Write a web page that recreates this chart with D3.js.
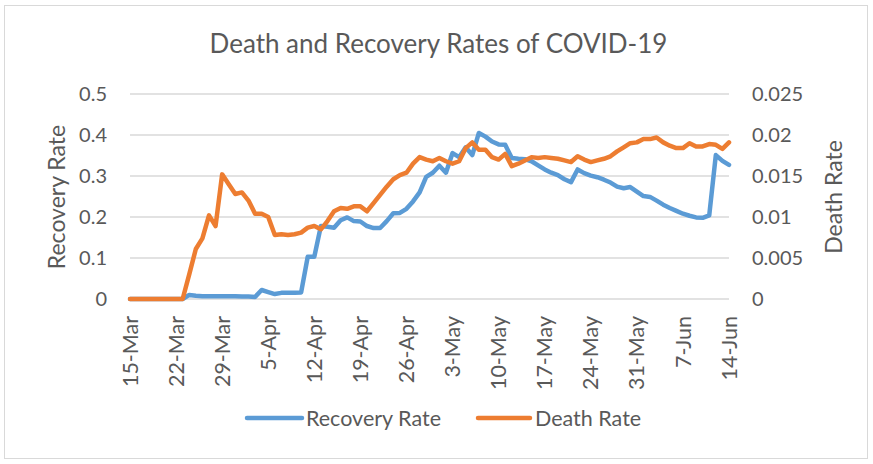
<!DOCTYPE html>
<html><head><meta charset="utf-8">
<script src="https://cdn.jsdelivr.net/npm/d3@7"></script>
<style>
html,body{margin:0;padding:0;background:#fff;}
svg text{font-family:Lato,"Open Sans",sans-serif;fill:#595959;}
</style></head>
<body><svg id="c" width="873" height="464"></svg>
<script>
const title = "Death and Recovery Rates of COVID-19";
const startDate = "2020-03-15";
const endDate = "2020-06-14";
const xTickLabels = ["15-Mar","22-Mar","29-Mar","5-Apr","12-Apr","19-Apr","26-Apr","3-May","10-May","17-May","24-May","31-May","7-Jun","14-Jun"];
const leftTicks = [0,0.1,0.2,0.3,0.4,0.5];
const rightTicks = [0,0.005,0.01,0.015,0.02,0.025];
const recoveryRate = [0,0,0,0,0,0,0,0,0,0.010,0.008,0.007,0.007,0.007,0.007,0.007,0.007,0.006,0.006,0.005,
 0.022,0.017,0.012,0.015,0.015,0.015,0.016,0.103,0.103,0.178,0.176,0.174,0.192,0.199,0.190,0.189,0.178,0.173,0.173,0.190,
 0.209,0.210,0.220,0.238,0.260,0.298,0.308,0.325,0.308,0.356,0.346,0.370,0.351,0.405,0.396,0.384,0.377,0.376,0.344,0.342,
 0.341,0.336,0.326,0.316,0.308,0.302,0.292,0.285,0.316,0.307,0.301,0.297,0.291,0.284,0.274,0.270,0.273,0.262,0.251,0.249,
 0.240,0.230,0.222,0.215,0.208,0.203,0.199,0.198,0.204,0.351,0.337,0.327];
const deathRate = [0,0,0,0,0,0,0,0,0,0.0030,0.0061,0.0074,0.0102,0.0089,0.0152,0.0140,0.0128,0.0130,0.0120,0.0104,
 0.0104,0.0100,0.0078,0.0079,0.0078,0.0079,0.0081,0.0087,0.0089,0.0085,0.0095,0.0107,0.0111,0.0110,0.0113,0.0113,0.0107,0.0117,0.0127,0.0137,
 0.0146,0.0151,0.0154,0.0165,0.0173,0.0170,0.0168,0.0172,0.0168,0.0165,0.0168,0.0184,0.0191,0.0182,0.0182,0.0173,0.0170,0.0177,0.0162,0.0165,
 0.0169,0.0173,0.0172,0.0173,0.0172,0.0171,0.0169,0.0167,0.0174,0.0170,0.0167,0.0169,0.0171,0.0174,0.0180,0.0185,0.0190,0.0191,0.0195,0.0195,
 0.0197,0.0191,0.0187,0.0184,0.0184,0.0190,0.0186,0.0186,0.0189,0.0188,0.0183,0.0191];
const seriesNames = ["Recovery Rate","Death Rate"];
const colors = ["#5B9BD5","#ED7D31"];

const parse = d3.timeParse("%Y-%m-%d");
const dates = d3.timeDay.range(parse(startDate), d3.timeDay.offset(parse(endDate),1));
const svg = d3.select("#c");
svg.append("rect").attr("x",4.5).attr("y",5.5).attr("width",863).attr("height",453)
  .attr("fill","#fff").attr("stroke","#d9d9d9").attr("stroke-width",1);

const L=130,R=729,T=94,B=299;
const x = d3.scaleTime().domain([parse(startDate),parse(endDate)]).range([L,R]);
const yL = d3.scaleLinear().domain([0,0.5]).range([B,T]);
const yR = d3.scaleLinear().domain([0,0.025]).range([B,T]);

// gridlines
svg.append("g").selectAll("line").data(leftTicks).join("line")
  .attr("x1",L).attr("x2",R).attr("y1",d=>yL(d)).attr("y2",d=>yL(d))
  .attr("stroke","#d9d9d9").attr("stroke-width",1.5);

// left axis
const gl = svg.append("g").attr("transform",`translate(${L},0)`)
  .call(d3.axisLeft(yL).tickValues(leftTicks).tickFormat(d=>String(+d.toFixed(3))).tickSize(0).tickPadding(23));
gl.select(".domain").remove();
gl.selectAll("text").attr("font-size",20).attr("fill","#595959").style("font-family","Lato");

// right axis
const gr = svg.append("g").attr("transform",`translate(${R},0)`)
  .call(d3.axisRight(yR).tickValues(rightTicks).tickFormat(d=>String(+d.toFixed(3))).tickSize(0).tickPadding(23));
gr.select(".domain").remove();
gr.selectAll("text").attr("font-size",20).attr("fill","#595959").style("font-family","Lato");

// x axis
const tickDates = xTickLabels.map((s,i)=>d3.timeDay.offset(parse(startDate),i*7));
const gx = svg.append("g").attr("transform",`translate(0,${B})`)
  .call(d3.axisBottom(x).tickValues(tickDates).tickFormat((d,i)=>xTickLabels[i]).tickSize(0));
gx.select(".domain").remove();
gx.selectAll("text").attr("font-size",21.5).attr("fill","#595959").style("font-family","Lato")
  .attr("transform","rotate(-90)").attr("text-anchor","end").attr("x",-17).attr("y",0).attr("dy","0.33em");

// lines
const lineR = d3.line().x((d,i)=>x(dates[i])).y(d=>yL(d));
const lineD = d3.line().x((d,i)=>x(dates[i])).y(d=>yR(d));
svg.append("path").datum(recoveryRate).attr("d",lineR).attr("fill","none")
  .attr("stroke",colors[0]).attr("stroke-width",4.5).attr("stroke-linejoin","round").attr("stroke-linecap","round");
svg.append("path").datum(deathRate).attr("d",lineD).attr("fill","none")
  .attr("stroke",colors[1]).attr("stroke-width",4.5).attr("stroke-linejoin","round").attr("stroke-linecap","round");

// title
svg.append("text").attr("x",438.5).attr("y",53).attr("text-anchor","middle").attr("font-size",26).text(title);
// axis titles
svg.append("text").attr("transform","translate(65,197) rotate(-90)").attr("text-anchor","middle").attr("font-size",23).text(seriesNames[0]);
svg.append("text").attr("transform","translate(842,197) rotate(-90)").attr("text-anchor","middle").attr("font-size",23).text(seriesNames[1]);

// legend
const lg = [{x1:247,x2:302,tx:306},{x1:478,x2:530,tx:535}];
lg.forEach((p,i)=>{
  svg.append("line").attr("x1",p.x1).attr("x2",p.x2).attr("y1",418).attr("y2",418)
    .attr("stroke",colors[i]).attr("stroke-width",4.5).attr("stroke-linecap","round");
  svg.append("text").attr("x",p.tx).attr("y",418).attr("dy","0.35em").attr("font-size",21.5).text(seriesNames[i]);
});
</script></body></html>
